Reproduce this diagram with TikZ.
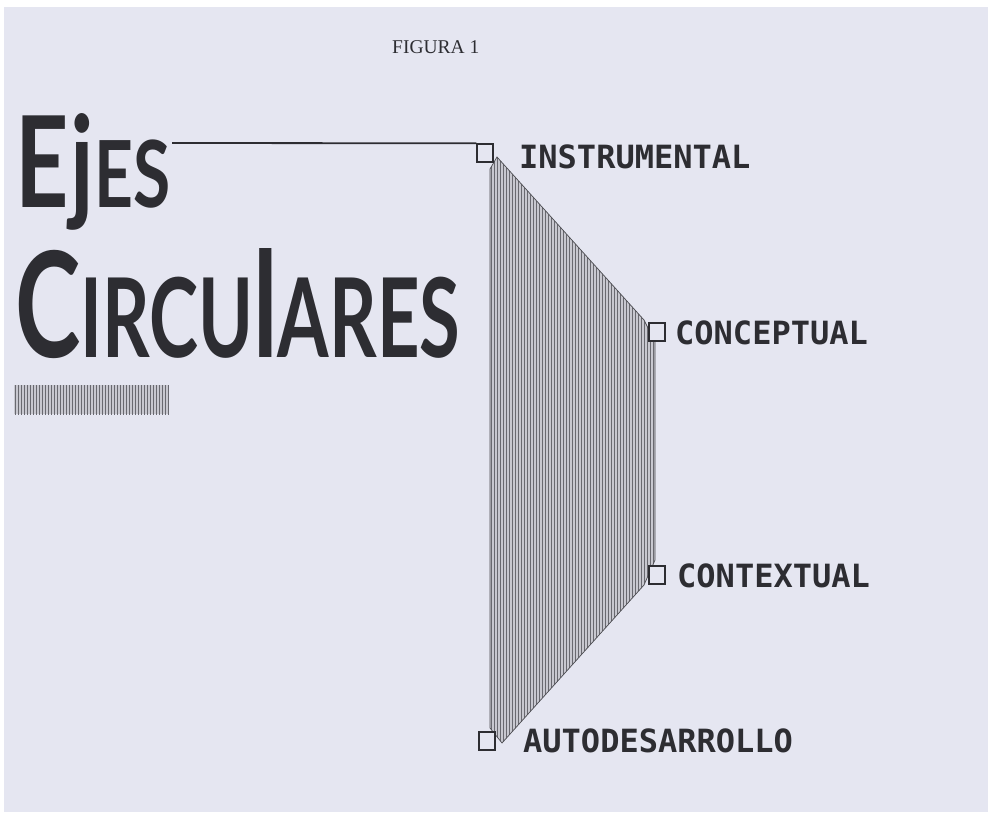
\documentclass[tikz,border=0pt]{standalone}
\usepackage{fontspec}
\usepackage{graphicx}
\setmainfont{Liberation Serif}
\newfontfamily\labfont{DejaVu Sans Mono}[BoldFont={DejaVu Sans Mono Bold}]
\newfontfamily\titlefont{Lato}
\definecolor{bgc}{RGB}{229,230,241}
\definecolor{ink}{RGB}{45,45,50}
\definecolor{hatchbg}{RGB}{200,200,208}
\definecolor{hatchln}{RGB}{105,105,112}
\tikzset{
  sqbox/.style={draw=ink, line width=1.4pt, fill=bgc, minimum width=16pt, minimum height=18pt, inner sep=0pt},
  lab/.style={font=\labfont\bfseries\fontsize{32}{32}\selectfont, text=ink, inner sep=0pt, anchor=west},
  ttl/.style={font=\titlefont\bfseries, text=ink, inner sep=0pt, anchor=base west},
}
\begin{document}
\begin{tikzpicture}[x=1pt,y=-1pt]
\useasboundingbox (0,0) rectangle (988,827);
\fill[white] (0,0) rectangle (988,827);
\fill[bgc] (4,7) rectangle (988,812);

% caption
\node[font=\fontsize{19.5}{19.5}\selectfont, text=ink, inner sep=0pt, anchor=base west] (fig) at (392,53) {FIGURA 1};

% title
\node[ttl] (ejes) at (15,207) {\resizebox{155pt}{94pt}{\fontsize{100}{100}\selectfont E\kern2pt j{\fontsize{73}{73}\selectfont ES}}};
\node[ttl] (circ) at (15,357) {\resizebox{445pt}{109pt}{\fontsize{100}{100}\selectfont C{\fontsize{75}{75}\selectfont IRCU}l{\fontsize{75}{75}\selectfont ARES}}};

% hatched bar under title
\begin{scope}
  \clip (14,385) rectangle (169,414);
  \fill[hatchbg] (14,385) rectangle (169,414);
  \foreach \x in {15,18,...,170} { \draw[hatchln, line width=0.9pt] (\x,380) -- (\x,420); }
\end{scope}

% hatched polygon
\begin{scope}
  \clip (490,169) -- (497,157) -- (644,320) -- (655,342) -- (655,560) -- (644,585) -- (502,743) -- (490,728) -- cycle;
  \fill[hatchbg] (480,150) rectangle (670,750);
  \foreach \x in {491,494,...,657} { \draw[hatchln, line width=0.9pt] (\x,150) -- (\x,750); }
\end{scope}
\draw[ink!85, line width=0.7pt] (490,169) -- (497,157) -- (644,320) -- (655,342) -- (655,560) -- (644,585) -- (502,743) -- (490,728) -- cycle;

% squares
\node[sqbox] (s1) at (485,153) {};
\node[sqbox] (s2) at (657,332) {};
\node[sqbox] (s3) at (657,575) {};
\node[sqbox] (s4) at (487,741) {};

% labels
\node[lab] (l1) at (519,157) {INSTRUMENTAL};
\node[lab] (l2) at (675,333) {CONCEPTUAL};
\node[lab] (l3) at (677,576) {CONTEXTUAL};
\node[lab] (l4) at (523,741) {AUTODESARROLLO};

% line from title to first square
\coordinate (lstart) at (172,143);
\draw[ink, line width=1.8pt] (lstart) -- (s1.north west);
\end{tikzpicture}
\end{document}
